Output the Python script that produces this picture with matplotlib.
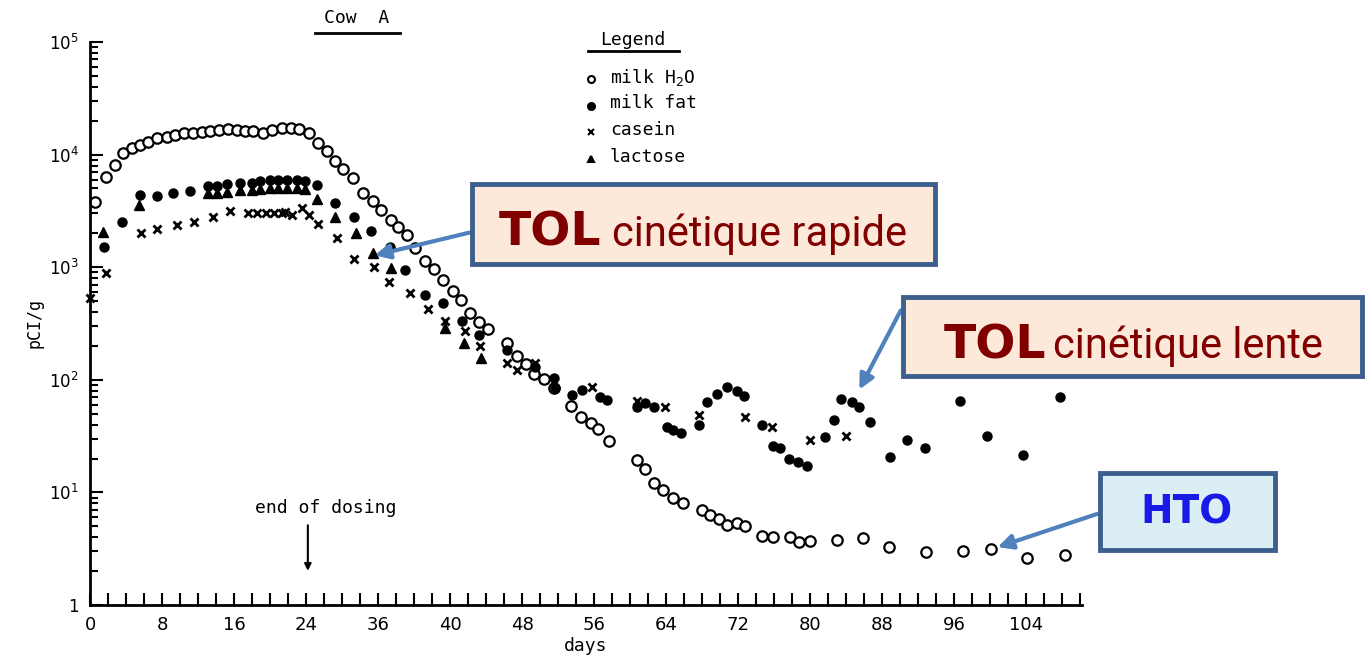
import matplotlib
matplotlib.use('Agg')
import matplotlib.pyplot as plt
from matplotlib.patches import Rectangle, FancyArrowPatch
from matplotlib.lines import Line2D
from matplotlib.ticker import LogLocator, FixedLocator

# milk H2O (open circles)
h2o_days = [0.6, 1.8, 2.8, 3.7, 4.7, 5.6, 6.4, 7.4, 8.6, 9.4, 10.4, 11.4, 12.4, 13.3, 14.3,
            15.3, 16.3, 17.2, 18.1, 19.2, 20.2, 21.3, 22.3, 23.2, 24.3, 25.3, 26.3, 27.2, 28.1, 29.2,
            30.3, 31.4, 32.3, 33.4, 34.2, 35.2, 36.1, 37.2, 38.2, 39.2, 40.3, 41.2, 42.2, 43.2, 44.2,
            46.3, 47.4, 48.4, 49.3, 50.4, 51.6, 53.4, 54.6, 55.6, 56.4, 57.6, 60.8, 61.7, 62.7, 63.7,
            64.8, 65.9, 68.0, 68.9, 69.9, 70.8, 71.9, 72.8, 74.7, 75.9, 77.8, 78.8, 80.0, 83.0, 85.9,
            88.8, 92.9, 97.0, 100.1, 104.1, 108.3]
h2o_vals = [3800, 6300, 8100, 10300, 11500, 12200, 13000, 14000, 14400, 14900, 15600, 15600, 15800, 16300, 16600,
            16900, 16600, 16300, 16300, 15600, 16600, 17200, 17200, 16900, 15600, 12700, 10700, 8700, 7400, 6200,
            4600, 3900, 3200, 2650, 2280, 1940, 1480, 1140, 960, 770, 620, 510, 390, 325, 280,
            213, 163, 138, 113, 102, 85, 59, 47, 41, 36.6, 28.6, 19.4, 16.1, 12.1, 10.5,
            8.9, 8.1, 7.0, 6.3, 5.8, 5.1, 5.4, 5.0, 4.1, 4.0, 4.0, 3.6, 3.7, 3.8, 3.9,
            3.3, 2.95, 3.0, 3.15, 2.6, 2.8]

# milk fat (filled circles)
fat_days = [1.5, 3.5, 5.5, 7.4, 9.2, 11.1, 13.1, 14.1, 15.2, 16.7, 18.0, 18.9, 20.0, 20.9, 21.9,
            23.0, 23.9, 25.2, 27.2, 29.3, 31.2, 33.3, 35.0, 37.2, 39.2, 41.3, 43.2, 46.3, 49.4, 51.6,
            51.7, 53.6, 54.7, 56.7, 57.4, 60.8, 61.7, 62.6, 64.1, 64.8, 65.6, 67.7, 68.5, 69.7, 70.8,
            71.9, 72.6, 74.7, 75.9, 76.7, 77.6, 78.7, 79.6, 81.7, 82.6, 83.4, 84.7, 85.4, 86.7, 88.9,
            90.8, 92.8, 96.6, 99.7, 103.7, 107.8]
fat_vals = [1500, 2500, 4400, 4300, 4550, 4750, 5300, 5300, 5500, 5600, 5600, 5800, 5900, 5900, 6000,
            6000, 5800, 5400, 3700, 2800, 2100, 1510, 950, 570, 480, 330, 250, 183, 130, 104,
            85, 73, 81, 70, 66, 57, 62, 57, 38, 36, 34, 40, 63, 75, 87,
            80, 72, 40, 26, 25, 20, 18.6, 17, 31, 44, 68, 63, 57, 42, 20.6,
            29, 25, 65, 32, 21.5, 70]

# casein (x)
cas_days = [0.0, 1.8, 5.7, 7.4, 9.7, 11.5, 13.7, 15.6, 17.5, 18.6, 19.5, 20.4, 21.3, 21.7, 22.4,
            23.6, 24.3, 25.3, 27.4, 29.3, 31.6, 33.2, 35.6, 37.6, 39.4, 41.7, 43.3, 46.3, 47.4, 49.4,
            55.8, 60.8, 63.9, 67.7, 72.8, 75.8, 80.0, 84.0]
cas_vals = [530, 890, 2000, 2200, 2350, 2500, 2800, 3150, 3000, 3050, 3000, 3000, 3050, 3100, 2900,
            3350, 2900, 2400, 1820, 1180, 1000, 740, 590, 425, 330, 270, 200, 141, 123, 141,
            87, 65, 57, 49, 47, 38, 29, 32]

# lactose (triangles)
lac_days = [1.4, 5.4, 13.1, 14.1, 15.2, 16.7, 18.0, 18.9, 20.0, 20.9, 21.9, 23.0, 23.9, 25.2, 27.2,
            29.6, 31.4, 33.4, 39.4, 41.6, 43.4]
lac_vals = [2050, 3550, 4600, 4600, 4700, 4800, 4800, 4900, 5000, 5000, 5100, 5100, 4900, 4000, 2800,
            2000, 1340, 980, 290, 213, 156]

xtick_pos = [0, 8, 16, 24, 32, 40, 48, 56, 64, 72, 80, 88, 96, 104]
xtick_lab = ['0', '8', '16', '24', '36', '40', '48', '56', '64', '72', '80', '88', '96', '104']
ytick_pos = [1, 10, 100, 1000, 10000, 100000]
ytick_lab = ['1', '$10^1$', '$10^2$', '$10^3$', '$10^4$', '$10^5$']

W, H = 1366, 662
fig = plt.figure(figsize=(W / 100, H / 100), dpi=100)
ax = fig.add_axes([90 / W, 1 - 605 / H, 992 / W, 563 / H])

ax.plot(h2o_days, h2o_vals, 'o', mfc='white', mec='black', mew=1.6, ms=7.5, clip_on=False)
ax.plot(fat_days, fat_vals, 'o', color='black', ms=6.5, clip_on=False)
ax.plot(cas_days, cas_vals, 'x', color='black', mew=2, ms=6, clip_on=False)
ax.plot(lac_days, lac_vals, '^', color='black', ms=7, clip_on=False)

ax.set_yscale('log')
ax.set_ylim(1, 1e5)
ax.set_xlim(0, 110.2)
ax.spines['top'].set_visible(False)
ax.spines['right'].set_visible(False)
ax.spines['left'].set_linewidth(2)
ax.spines['bottom'].set_linewidth(2)

ax.xaxis.set_major_locator(FixedLocator(xtick_pos))
ax.xaxis.set_minor_locator(FixedLocator(list(range(0, 111, 2))))
ax.set_xticklabels(xtick_lab)
ax.yaxis.set_major_locator(FixedLocator(ytick_pos))
ax.yaxis.set_minor_locator(LogLocator(base=10, subs=range(2, 10)))
ax.set_yticklabels(ytick_lab)
ax.tick_params(axis='both', which='both', direction='in', color='black', width=1.5)
ax.tick_params(axis='x', which='major', length=9, labelsize=13, pad=8)
ax.tick_params(axis='x', which='minor', length=9)
ax.tick_params(axis='y', which='major', length=9, labelsize=12, pad=8)
ax.tick_params(axis='y', which='minor', length=6)

mono = 'DejaVu Sans Mono'
ax.set_xlabel('days', fontsize=13, family=mono, labelpad=2)
ax.set_ylabel('pCI/g', fontsize=12, family=mono, labelpad=4)

# end of dosing marker
ax.text(26.2, 7.3, 'end of dosing', ha='center', va='center', fontsize=13, family=mono)
ax.annotate('', xy=(24.2, 1.9), xytext=(24.2, 5.4),
            arrowprops=dict(arrowstyle='-|>', color='black', lw=1.5, mutation_scale=10))

# title and legend
fig.text(357 / W, 1 - 18 / H, 'Cow  A', ha='center', va='center', fontsize=13, family=mono)
fig.add_artist(Line2D([315 / W, 400 / W], [1 - 33 / H, 1 - 33 / H], color='black', lw=2))
fig.text(633 / W, 1 - 40 / H, 'Legend', ha='center', va='center', fontsize=13, family=mono)
fig.add_artist(Line2D([588 / W, 679 / W], [1 - 51 / H, 1 - 51 / H], color='black', lw=2))
leg_labels = ['milk H$_2$O', 'milk fat', 'casein', 'lactose']
leg_marks = [('o', 'white'), ('o', 'black'), ('x', 'black'), ('^', 'black')]
for i, (lab, (m, fc)) in enumerate(zip(leg_labels, leg_marks)):
    yy = 1 - (77 + i * 26.5) / H
    fig.add_artist(Line2D([591 / W], [yy - 2 / H], marker=m, mfc=fc, mec='black', color='black',
                          ms=5, mew=1.5, ls='none'))
    fig.text(610 / W, yy, lab, ha='left', va='center', fontsize=13, family=mono)

# annotation boxes
edge = '#3C5F8C'
red = '#800000'
arrow_c = '#4F81BD'


def box(x0, y0, x1, y1, fc):
    fig.add_artist(Rectangle((x0 / W, 1 - y1 / H), (x1 - x0) / W, (y1 - y0) / H,
                             transform=fig.transFigure, fc=fc, ec=edge, lw=3.5))


def arrow(x0, y0, x1, y1):
    fig.add_artist(FancyArrowPatch((x0 / W, 1 - y0 / H), (x1 / W, 1 - y1 / H),
                                   transform=fig.transFigure, arrowstyle='-|>',
                                   mutation_scale=22, color=arrow_c, lw=3))


arrow(472, 232, 372, 256)
box(472, 184, 935, 264, '#FDE9DA')
fig.text(499 / W, 1 - 246 / H, 'TOL', fontsize=34, weight='bold', color=red, va='baseline')
fig.text(612 / W, 1 - 246 / H, 'cinétique rapide', fontsize=30, color=red, va='baseline',
         family='Roboto')

arrow(902, 308, 858, 392)
box(903, 297, 1362, 376, '#FDE9DA')
fig.text(944 / W, 1 - 358 / H, 'TOL', fontsize=34, weight='bold', color=red, va='baseline')
fig.text(1053 / W, 1 - 358 / H, 'cinétique lente', fontsize=30, color=red, va='baseline',
         family='Roboto')

arrow(1100, 513, 995, 548)
box(1100, 473, 1275, 550, '#DBEEF4')
fig.text(1187 / W, 1 - 513 / H, 'HTO', fontsize=28, weight='bold', color='#1A1AE6',
         ha='center', va='center')

fig.savefig('out.png', dpi=100)
